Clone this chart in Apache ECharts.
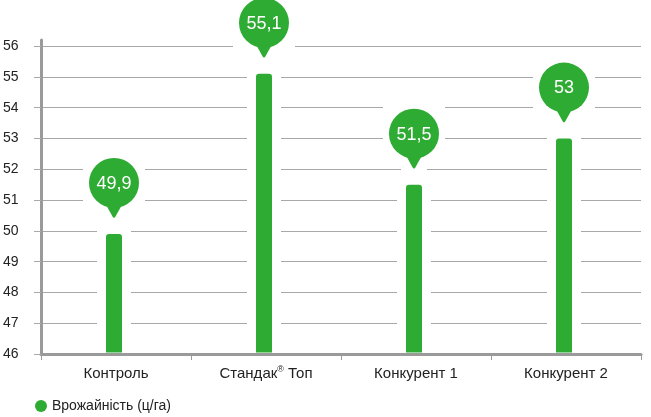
<!DOCTYPE html>
<html><head><meta charset="utf-8">
<script src="https://cdn.jsdelivr.net/npm/echarts@6/dist/echarts.min.js"></script>
<style>html,body{margin:0;padding:0;background:#fff}#c{width:651px;height:417px}</style>
</head><body><div id="c"></div>
<script>
var categories = ['Контроль', 'Стандак® Топ', 'Конкурент 1', 'Конкурент 2'];
var values = [49.9, 55.1, 51.5, 53];
var yTicks = [46, 47, 48, 49, 50, 51, 52, 53, 54, 55, 56];
var seriesName = 'Врожайність (ц/га)';

var GREEN = '#2eab33';
var FONT = '"Liberation Sans", Arial, sans-serif';

var chart = echarts.init(document.getElementById('c'), null, {renderer: 'canvas'});
chart.setOption({
  animation: false,
  backgroundColor: '#fff',
  grid: {left: 40, right: 10, top: 40, bottom: 63},
  legend: {
    left: 35, top: 397, padding: [2, 0, 2, 0], icon: 'circle', itemWidth: 12, itemHeight: 12, itemGap: 10,
    textStyle: {fontFamily: FONT, fontSize: 14, color: '#222'},
    data: [{name: seriesName, itemStyle: {color: GREEN}}]
  },
  xAxis: {
    type: 'category', data: categories, boundaryGap: true,
    axisLine: {lineStyle: {color: '#9a9a9a', width: 3}},
    axisTick: {show: true, length: 6, lineStyle: {color: '#9a9a9a', width: 1}},
    axisLabel: {
      interval: 0, margin: 11, color: '#222', fontFamily: FONT, fontSize: 15,
      formatter: function (v) {
        if (v.indexOf('®') >= 0) {
          var p = v.split('®');
          return '{a|' + p[0] + '}{s|®}{a|' + p[1] + '}';
        }
        return '{a|' + v + '}';
      },
      rich: {
        a: {fontFamily: FONT, fontSize: 15, color: '#222', lineHeight: 18},
        s: {fontFamily: FONT, fontSize: 9, color: '#222', lineHeight: 18, verticalAlign: 'top', padding: [0, 0, 6, 0]}
      }
    }
  },
  yAxis: {
    type: 'value', min: 46, max: 56.2, interval: 1,
    axisLine: {show: true, lineStyle: {color: '#9a9a9a', width: 3}},
    axisTick: {show: true, length: 7, lineStyle: {color: '#aaa', width: 1}},
    splitLine: {show: true, showMaxLine: false, lineStyle: {color: '#a8a8a8', width: 1}},
    axisLabel: {
      showMaxLabel: false, align: 'left', margin: 38, color: '#222', fontFamily: FONT, fontSize: 14,
      formatter: function (v) { return yTicks.indexOf(v) >= 0 ? String(v) : ''; }
    }
  },
  series: [{
    name: seriesName,
    type: 'custom',
    clip: false,
    itemStyle: {color: GREEN},
    data: categories.map(function (c, i) { return [i, values[i]]; }),
    renderItem: function (params, api) {
      var idx = api.value(0), v = api.value(1);
      var top = api.coord([idx, v]);
      var base = api.coord([idx, 46]);
      var cx = top[0] - 2, tY = top[1], bY = base[1] - 1.5;
      var bw = 16, r = 25;
      var cy = tY - 51;
      var label = String(v).replace('.', ',');
      return {
        type: 'group',
        children: [
          {type: 'rect', shape: {x: cx - 17, y: tY - 3, width: 34, height: bY - tY + 2}, style: {fill: '#fff'}},
          {type: 'rect', shape: {x: cx - 13, y: cy + r, width: 26, height: tY - cy - r}, style: {fill: '#fff'}},
          {type: 'rect', shape: {x: cx - 31, y: cy - r - 6, width: 62, height: 2 * r + 8}, style: {fill: '#fff'}},
          {type: 'rect', shape: {x: cx - bw / 2, y: tY, width: bw, height: bY - tY, r: [3, 3, 0, 0]}, style: {fill: GREEN}},
          {type: 'circle', shape: {cx: cx, cy: cy, r: r}, style: {fill: GREEN}},
          {type: 'polygon', shape: {points: [[cx - 9, cy + r - 5], [cx + 9, cy + r - 5], [cx + 1.2, tY - 17], [cx, tY - 16], [cx - 1.2, tY - 17]]}, style: {fill: GREEN}},
          {type: 'text', style: {x: cx, y: cy + 1, text: label, fill: '#fff', font: '18px ' + FONT, align: 'center', verticalAlign: 'middle'}}
        ]
      };
    }
  }]
});
</script></body></html>
